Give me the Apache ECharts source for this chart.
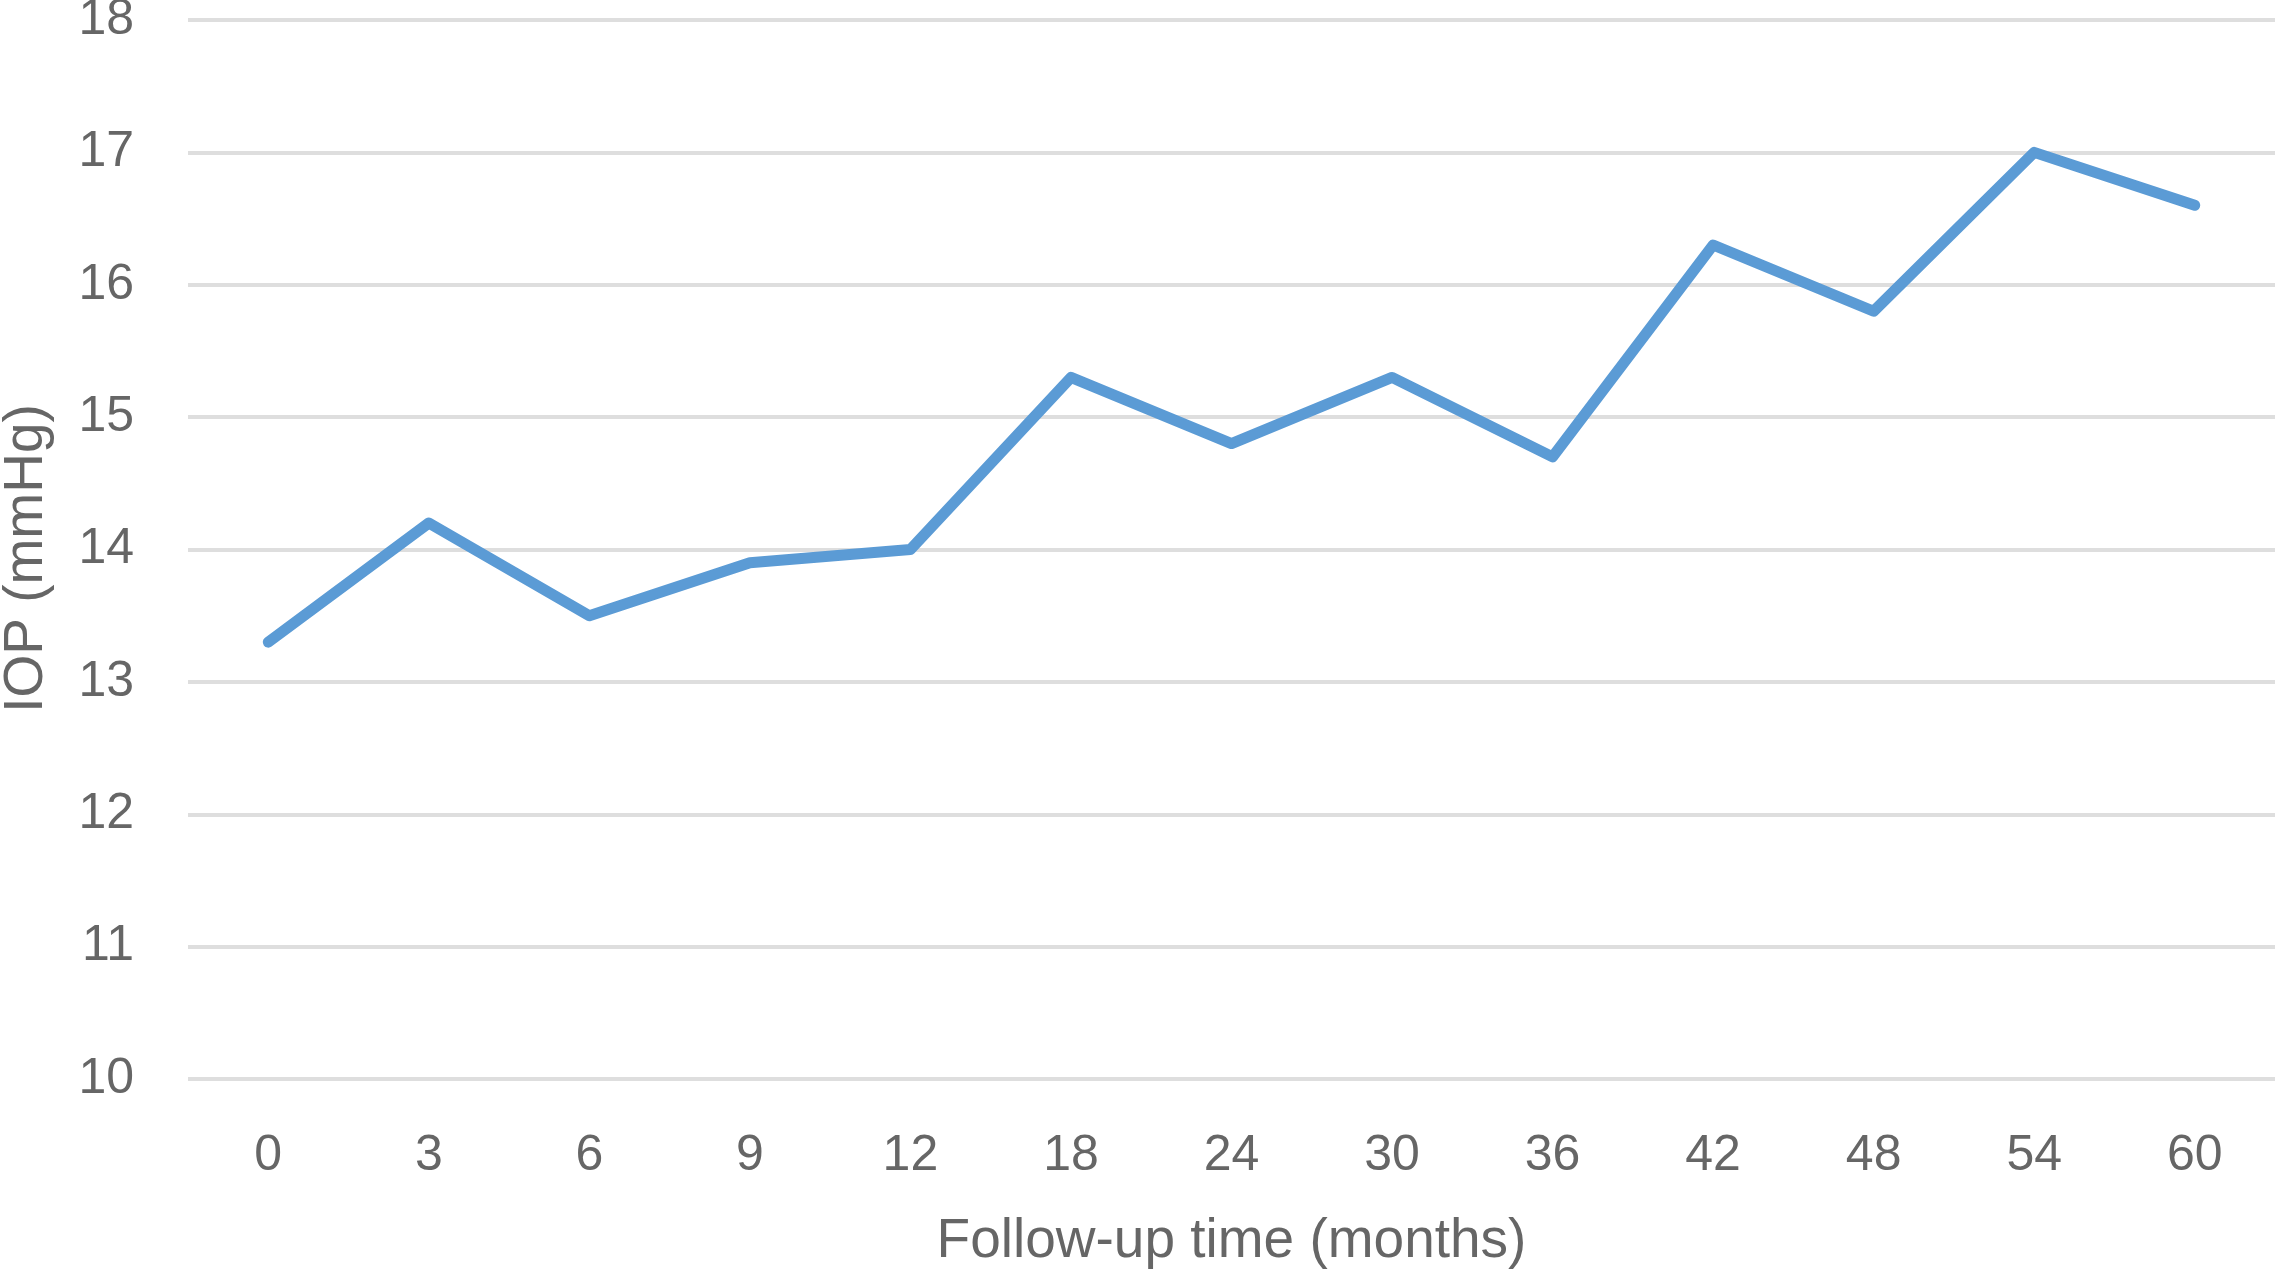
<!DOCTYPE html>
<html>
<head>
<meta charset="utf-8">
<script src="https://cdn.jsdelivr.net/npm/echarts@6/dist/echarts.min.js"></script>
<style>
  html, body { margin: 0; padding: 0; background: #fff; }
  #chart { width: 2275px; height: 1275px; }
</style>
</head>
<body>
<div id="chart"></div>
<script>
// Data
const months = ['0', '3', '6', '9', '12', '18', '24', '30', '36', '42', '48', '54', '60'];
const iopValues = [13.3, 14.2, 13.5, 13.9, 14.0, 15.3, 14.8, 15.3, 14.7, 16.3, 15.8, 17.0, 16.6];

const TEXT_COLOR = '#666666';
const GRID_COLOR = '#dedede';
const LINE_COLOR = '#5b9bd5';

const chart = echarts.init(document.getElementById('chart'), null, { renderer: 'canvas' });

const option = {
    animation: false,
    backgroundColor: '#fff',
    grid: {
        left: 188,
        right: 0,
        top: 20,
        bottom: 196,
        containLabel: false,
        outerBoundsMode: 'none'
    },
    xAxis: {
        type: 'category',
        data: months,
        boundaryGap: true,
        name: 'Follow-up time (months)',
        nameLocation: 'middle',
        nameGap: 135,
        nameTextStyle: {
            fontFamily: 'Liberation Sans',
            fontSize: 55,
            color: TEXT_COLOR
        },
        axisLine: { show: false },
        axisTick: { show: false },
        axisLabel: {
            margin: 52,
            fontFamily: 'Liberation Sans',
            fontSize: 50,
            color: TEXT_COLOR
        },
        splitLine: { show: false }
    },
    yAxis: {
        type: 'value',
        min: 10,
        max: 18,
        interval: 1,
        name: 'IOP (mmHg)',
        nameLocation: 'middle',
        nameRotate: 90,
        nameGap: 134,
        nameTextStyle: {
            fontFamily: 'Liberation Sans',
            fontSize: 55,
            color: TEXT_COLOR,
            padding: [0, 18, 0, 0]
        },
        axisLine: { show: false },
        axisTick: { show: false },
        axisLabel: {
            margin: 54,
            fontFamily: 'Liberation Sans',
            fontSize: 50,
            color: TEXT_COLOR
        },
        splitLine: {
            show: true,
            lineStyle: { color: GRID_COLOR, width: 4 }
        }
    },
    series: [{
        name: 'IOP',
        type: 'line',
        data: iopValues,
        showSymbol: false,
        symbol: 'none',
        lineStyle: {
            color: LINE_COLOR,
            width: 11,
            cap: 'round',
            join: 'round'
        }
    }]
};

chart.setOption(option);
</script>
</body>
</html>
